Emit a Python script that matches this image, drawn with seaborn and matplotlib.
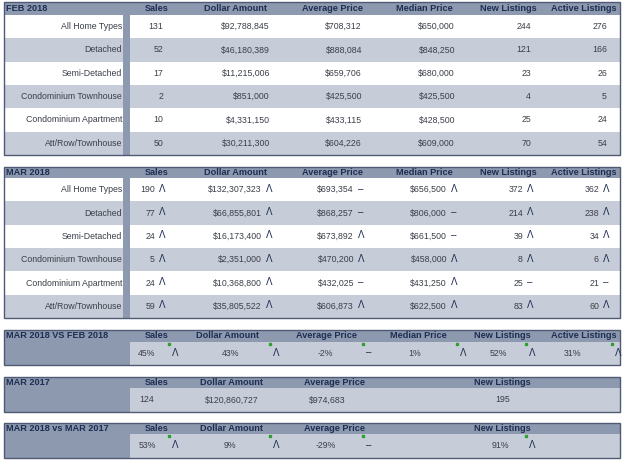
import matplotlib
matplotlib.use("Agg")
import matplotlib.pyplot as plt
import seaborn as sns
from matplotlib.patches import Rectangle

sns.set_theme(style="white")
plt.rcParams["font.family"] = ["Liberation Sans", "DejaVu Sans"]

# ===== DATA =====
columns = ["Sales", "Dollar Amount", "Average Price", "Median Price", "New Listings", "Active Listings"]
home_types = ["All Home Types", "Detached", "Semi-Detached", "Condominium Townhouse",
              "Condominium Apartment", "Att/Row/Townhouse"]

feb_2018 = [
    ["131", "$92,788,845", "$708,312", "$650,000", "244", "276"],
    ["52", "$46,180,389", "$888,084", "$848,250", "121", "166"],
    ["17", "$11,215,006", "$659,706", "$680,000", "23", "26"],
    ["2", "$851,000", "$425,500", "$425,500", "4", "5"],
    ["10", "$4,331,150", "$433,115", "$428,500", "25", "24"],
    ["50", "$30,211,300", "$604,226", "$609,000", "70", "54"],
]
mar_2018 = [
    ["190", "$132,307,323", "$693,354", "$656,500", "372", "362"],
    ["77", "$66,855,801", "$868,257", "$806,000", "214", "238"],
    ["24", "$16,173,400", "$673,892", "$661,500", "39", "34"],
    ["5", "$2,351,000", "$470,200", "$458,000", "8", "6"],
    ["24", "$10,368,800", "$432,025", "$431,250", "25", "21"],
    ["59", "$35,805,522", "$606,873", "$622,500", "83", "60"],
]
mar_2018_trend = [
    ["^", "^", "-", "^", "^", "^"],
    ["^", "^", "-", "-", "^", "^"],
    ["^", "^", "^", "-", "^", "^"],
    ["^", "^", "^", "^", "^", "^"],
    ["^", "^", "-", "^", "-", "-"],
    ["^", "^", "^", "^", "^", "^"],
]
mom_change = ["45%", "43%", "-2%", "1%", "52%", "31%"]
mom_trend = ["^", "^", "-", "^", "^", "^"]

yoy_columns = ["Sales", "Dollar Amount", "Average Price", "New Listings"]
mar_2017 = ["124", "$120,860,727", "$974,683", "195"]
yoy_change = ["53%", "9%", "-29%", "91%"]
yoy_trend = ["^", "^", "-", "^"]

# ===== STYLE =====
HEAD = "#8d99af"
NAVY = "#1e2d52"
LIGHT = "#c7cdd8"
BORDER = "#4f5b72"
TXT = "#3a3f48"
SYM = {"^": "Λ", "-": "–"}

head_x = [157, 235, 333, 424, 508, 584]
val_right = [163, 270, 362, 455, 531, 607]
sym_x = [175, 276, 369, 463, 532, 618]

fig = plt.figure(figsize=(6.23, 4.62), dpi=100)
ax = fig.add_axes([0, 0, 1, 1])
ax.set_xlim(0, 623)
ax.set_ylim(462, 0)
ax.axis("off")


def rect(x0, y0, x1, y1, color, **kw):
    ax.add_patch(Rectangle((x0, y0), x1 - x0, y1 - y0, facecolor=color, edgecolor="none", **kw))


def header(top, bottom, title, names, xs):
    rect(4, top, 620, bottom, HEAD)
    yc = (top + bottom) / 2
    ax.text(6, yc, title, ha="left", va="center", fontsize=6.6, fontweight="bold", color=NAVY)
    for n, x in zip(names, xs):
        ax.text(x, yc, n, ha="center", va="center", fontsize=6.6, fontweight="bold", color=NAVY)


def detail_table(top, hbottom, bottom, title, rows, trends=None):
    header(top, hbottom, title, columns, head_x)
    h = (bottom - hbottom) / len(home_types)
    for i, (name, vals) in enumerate(zip(home_types, rows)):
        y0 = hbottom + i * h
        rect(4, y0, 620, y0 + h, "white" if i % 2 == 0 else LIGHT)
        yc = y0 + h / 2
        ax.text(122, yc, name, ha="right", va="center", fontsize=6.3, color=TXT)
        off = 8 if trends else 0
        for j, v in enumerate(vals):
            ax.text(val_right[j] - off, yc, v, ha="right", va="center", fontsize=6.3, color=TXT)
            if trends:
                ax.text(val_right[j] - off + 4, yc - 1, SYM[trends[i][j]], ha="left", va="center",
                        fontsize=7, color=NAVY)
    rect(123, hbottom, 130, bottom, HEAD)
    ax.add_patch(Rectangle((4, top), 616, bottom - top, fill=False, edgecolor=BORDER, lw=1))


def summary_table(top, hbottom, bottom, title, names, hx, vals, vx, trends=None, tx=None):
    header(top, hbottom, title, names, hx)
    rect(4, hbottom, 130, bottom, HEAD)
    rect(130, hbottom, 620, bottom, LIGHT)
    yc = (hbottom + bottom) / 2
    for j, v in enumerate(vals):
        ax.text(vx[j], yc, v, ha="center", va="center", fontsize=6.3, color=TXT)
        if trends:
            ax.text(tx[j], yc - 1, SYM[trends[j]], ha="center", va="center", fontsize=7, color=NAVY)
            ax.plot(tx[j] - 6, hbottom + 2, marker="s", ms=1.5, color="#2ea02e")
    ax.add_patch(Rectangle((4, top), 616, bottom - top, fill=False, edgecolor=BORDER, lw=1))


detail_table(2, 15, 155, "FEB 2018", feb_2018)
detail_table(167, 178, 318, "MAR 2018", mar_2018, mar_2018_trend)

summary_table(330, 342, 365, "MAR 2018 VS FEB 2018",
              columns, [157, 228, 326, 418, 502, 584],
              mom_change, [147, 231, 325, 415, 498, 572],
              mom_trend, [175, 276, 369, 463, 532, 618])
summary_table(377, 388, 412, "MAR 2017",
              yoy_columns, [157, 232, 334, 502],
              mar_2017, [147, 232, 327, 503])
summary_table(423, 434, 458, "MAR 2018 vs MAR 2017",
              yoy_columns, [157, 232, 334, 502],
              yoy_change, [147, 230, 326, 500],
              yoy_trend, [175, 276, 369, 532])

fig.savefig("out.png", dpi=100)
